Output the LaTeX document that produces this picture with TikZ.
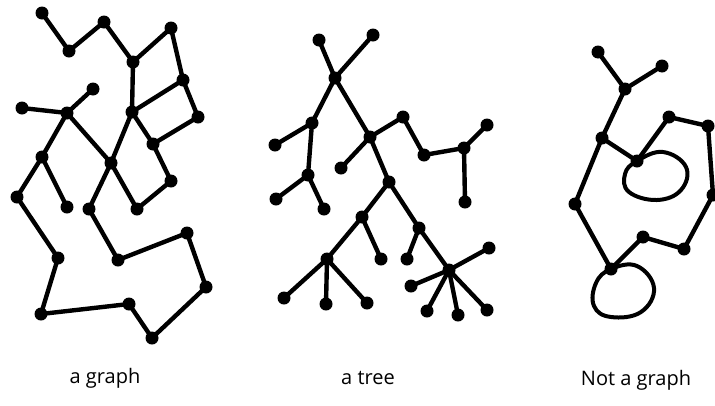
\documentclass[tikz,border=0pt]{standalone}
\usepackage{fontspec}
\setmainfont{Open Sans}
\begin{document}
\begin{tikzpicture}[x=1pt,y=-1pt,
  dot/.style={circle,fill=black,inner sep=0pt,minimum size=13pt},
  edge/.style={line width=4.4pt,line cap=round,line join=round},
  lbl/.style={font=\fontsize{20}{24}\selectfont}]
\useasboundingbox (0,0) rectangle (715,405);
% ---------- a graph ----------
\node[dot] (a1) at (42,13) {};
\node[dot] (a2) at (69,51) {};
\node[dot] (a3) at (104,22) {};
\node[dot] (a4) at (133,62) {};
\node[dot] (a5) at (171,28) {};
\node[dot] (a6) at (183,80) {};
\node[dot] (a7) at (198,117) {};
\node[dot] (a8) at (132,112) {};
\node[dot] (a9) at (153,144) {};
\node[dot] (a10) at (171,181) {};
\node[dot] (a11) at (137,209) {};
\node[dot] (a12) at (111,163) {};
\node[dot] (a13) at (89,209) {};
\node[dot] (a14) at (118,260) {};
\node[dot] (a15) at (187,233) {};
\node[dot] (a16) at (206,287) {};
\node[dot] (a17) at (152,338) {};
\node[dot] (a18) at (129,304) {};
\node[dot] (a19) at (41,314) {};
\node[dot] (a20) at (58,258) {};
\node[dot] (a21) at (17,197) {};
\node[dot] (a22) at (42,157) {};
\node[dot] (a23) at (67,207) {};
\node[dot] (a24) at (67,113) {};
\node[dot] (a25) at (22,108) {};
\node[dot] (a26) at (93,89) {};
\draw[edge] (a1.center)--(a2.center)--(a3.center)--(a4.center)--(a5.center)--(a6.center)--(a7.center)--(a9.center)--(a10.center)--(a11.center)--(a12.center)--(a8.center)--(a4.center);
\draw[edge] (a8.center)--(a6.center);
\draw[edge] (a8.center)--(a9.center);
\draw[edge] (a12.center)--(a13.center)--(a14.center)--(a15.center)--(a16.center)--(a17.center)--(a18.center)--(a19.center)--(a20.center)--(a21.center)--(a22.center)--(a24.center)--(a12.center);
\draw[edge] (a22.center)--(a23.center);
\draw[edge] (a24.center)--(a25.center);
\draw[edge] (a24.center)--(a26.center);
% ---------- a tree ----------
\node[dot] (t1) at (319,40) {};
\node[dot] (t2) at (373,35) {};
\node[dot] (t3) at (335,78) {};
\node[dot] (t4) at (312,123) {};
\node[dot] (t5) at (275,145) {};
\node[dot] (t6) at (308,175) {};
\node[dot] (t7) at (276,199) {};
\node[dot] (t8) at (324,209) {};
\node[dot] (t9) at (370,137) {};
\node[dot] (t10) at (341,168) {};
\node[dot] (t11) at (403,117) {};
\node[dot] (t12) at (424,155) {};
\node[dot] (t13) at (464,148) {};
\node[dot] (t14) at (487,125) {};
\node[dot] (t15) at (465,202) {};
\node[dot] (t16) at (389,182) {};
\node[dot] (t17) at (362,217) {};
\node[dot] (t18) at (381,259) {};
\node[dot] (t19) at (327,259) {};
\node[dot] (t20) at (284,298) {};
\node[dot] (t21) at (326,304) {};
\node[dot] (t22) at (367,303) {};
\node[dot] (t23) at (419,228) {};
\node[dot] (t24) at (407,259) {};
\node[dot] (t25) at (449,270) {};
\node[dot] (t26) at (489,248) {};
\node[dot] (t27) at (411,286) {};
\node[dot] (t28) at (427,311) {};
\node[dot] (t29) at (458,315) {};
\node[dot] (t30) at (487,310) {};
\foreach \a/\b in {t1/t3,t2/t3,t3/t4,t4/t5,t4/t6,t6/t7,t6/t8,t3/t9,t9/t10,t9/t11,t11/t12,t12/t13,t13/t14,t13/t15,t9/t16,t16/t17,t17/t18,t17/t19,t19/t20,t19/t21,t19/t22,t16/t23,t23/t24,t23/t25,t25/t26,t25/t27,t25/t28,t25/t29,t25/t30}
  \draw[edge] (\a.center)--(\b.center);
% ---------- not a graph ----------
\node[dot] (n1) at (598,52) {};
\node[dot] (n2) at (662,66) {};
\node[dot] (n3) at (625,89) {};
\node[dot] (n4) at (602,138) {};
\node[dot] (n5) at (637,161) {};
\node[dot] (n6) at (669,117) {};
\node[dot] (n7) at (708,126) {};
\node[dot] (n8) at (713,195) {};
\node[dot] (n9) at (684,249) {};
\node[dot] (n10) at (643,237) {};
\node[dot] (n11) at (611,269) {};
\node[dot] (n12) at (575,204) {};
\foreach \a/\b in {n1/n3,n2/n3,n3/n4,n4/n5,n5/n6,n6/n7,n7/n8,n8/n9,n9/n10,n10/n11,n11/n12,n12/n4}
  \draw[edge] (\a.center)--(\b.center);
\draw[line width=4pt] plot[smooth cycle,tension=0.7] coordinates {(n5.center) (663,152) (686,167) (681,190) (657,200) (629,192) (625,174)};
\draw[line width=4pt] plot[smooth cycle,tension=0.7] coordinates {(n11.center) (637,266) (654,288) (641,312) (611,317) (594,306) (596,283)};
% ---------- labels ----------
\node[lbl] (l1) at (105,378) {a graph};
\node[lbl] (l2) at (368,378) {a tree};
\node[lbl] (l3) at (636,380) {Not a graph};
\end{tikzpicture}
\end{document}
